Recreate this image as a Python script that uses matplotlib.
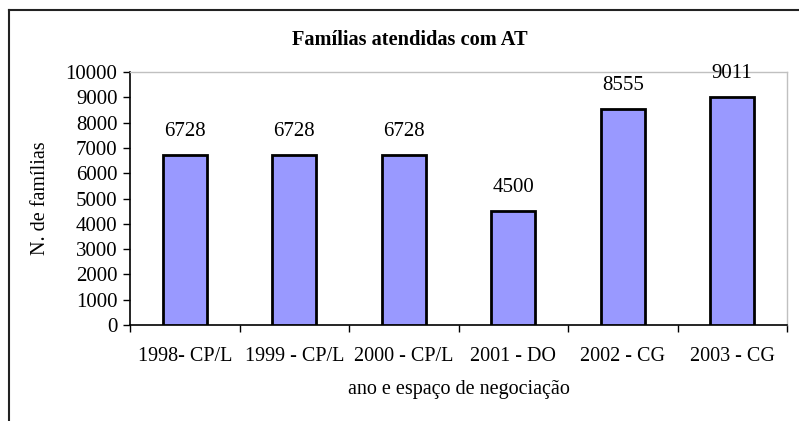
import matplotlib
matplotlib.use("Agg")
import matplotlib.pyplot as plt
from matplotlib.lines import Line2D
import numpy as np

categories = ["1998- CP/L", "1999 - CP/L", "2000 - CP/L", "2001 - DO", "2002 - CG", "2003 - CG"]
values = [6728, 6728, 6728, 4500, 8555, 9011]
yticks = list(range(0, 10001, 1000))

plt.rcParams['font.family'] = ['Liberation Serif', 'DejaVu Serif']

W, H = 799, 421
fig = plt.figure(figsize=(W / 100, H / 100), dpi=100)

# outer chart border (top and left visible)
fig.add_artist(Line2D([9 / W, 1.0], [1 - 10 / H, 1 - 10 / H], transform=fig.transFigure, color="#222222", lw=1.5))
fig.add_artist(Line2D([9 / W, 9 / W], [1 - 10 / H, 0], transform=fig.transFigure, color="#222222", lw=1.5))

ax = fig.add_axes([130 / W, 1 - 325 / H, (787 - 130) / W, (325 - 72) / H])
x = np.arange(len(categories))
ax.bar(x, values, width=0.4, color="#9999ff", edgecolor="black", linewidth=2, zorder=3)

for xi, v in zip(x, values):
    ax.annotate(str(v), (xi, v), xytext=(0, 14), textcoords="offset pixels",
                ha="center", va="bottom", fontsize=15)

ax.set_xlim(-0.5, len(categories) - 0.5)
ax.set_ylim(0, 10000)
ax.set_yticks(yticks)
ax.set_yticklabels([str(t) for t in yticks], fontsize=15)
ax.set_xticks(x)
ax.set_xticklabels(categories, fontsize=14.5)
ax.set_xticks(np.arange(-0.5, len(categories)), minor=True)
ax.tick_params(axis="x", which="major", length=0, pad=16)
ax.tick_params(axis="x", which="minor", length=5, width=1, direction="out")
ax.tick_params(axis="y", length=5, width=1, direction="out", pad=4)

for s in ["top", "right"]:
    ax.spines[s].set_color("#c0c0c0")
    ax.spines[s].set_linewidth(1)
for s in ["left", "bottom"]:
    ax.spines[s].set_color("black")
    ax.spines[s].set_linewidth(1.2)

ax.set_xlabel("ano e espaço de negociação", fontsize=14.5, labelpad=10)
ax.set_ylabel("N. de famílias", fontsize=14.5, labelpad=11)
fig.text(410 / W, 1 - 40 / H, "Famílias atendidas com AT", ha="center", va="center",
         fontsize=14.7, fontweight="bold")

fig.savefig("out.png", dpi=100)
